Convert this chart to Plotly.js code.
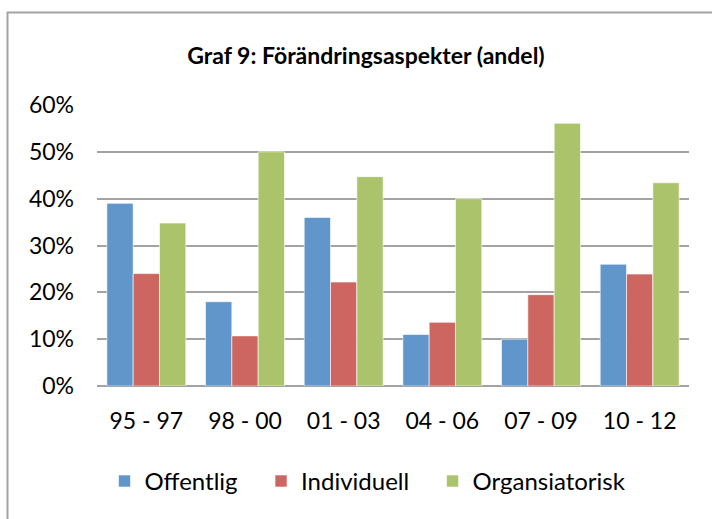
<!DOCTYPE html>
<html>
<head>
<meta charset="utf-8">
<script src="https://cdn.plot.ly/plotly-3.0.1.min.js"></script>
<style>
  html, body { margin: 0; padding: 0; background: #ffffff; }
  #chart { width: 712px; height: 519px; }
</style>
</head>
<body>
<div id="chart"></div>
<script>
const categories = ["95 - 97", "98 - 00", "01 - 03", "04 - 06", "07 - 09", "10 - 12"];
const offentlig = [0.39, 0.18, 0.36, 0.11, 0.10, 0.26];
const individuell = [0.24, 0.107, 0.222, 0.136, 0.195, 0.239];
const organsiatorisk = [0.348, 0.50, 0.447, 0.40, 0.561, 0.434];
const seriesNames = ["Offentlig", "Individuell", "Organsiatorisk"];
const seriesColors = ["#6096c9", "#cd6660", "#abc46c"];
const yTickVals = [0, 0.1, 0.2, 0.3, 0.4, 0.5, 0.6];
const yTickText = ["0%", "10%", "20%", "30%", "40%", "50%", "60%"];
const titleText = "Graf 9: Förändringsaspekter (andel)";

const PAD = "\u00a0\u00a0\u00a0";
const seriesValues = [offentlig, individuell, organsiatorisk];
const data = seriesValues.map((vals, i) => ({
  type: "bar",
  name: seriesNames[i] + PAD,
  x: categories,
  y: vals,
  marker: { color: seriesColors[i], line: { color: "rgba(255,255,255,0.6)", width: 1 } },
  hoverinfo: "skip"
}));

const FONT = "Lato, 'Open Sans', sans-serif";

const layout = {
  width: 712,
  height: 519,
  margin: { l: 97, r: 23, t: 105, b: 133, pad: 0 },
  paper_bgcolor: "#ffffff",
  plot_bgcolor: "#ffffff",
  font: { family: FONT, color: "#000000", size: 23 },
  title: {
    text: "<b>" + titleText + "</b>",
    font: { family: FONT, size: 23, color: "#000000" },
    x: 366 / 712,
    xanchor: "center",
    xref: "container",
    y: 1 - 56 / 519,
    yanchor: "middle",
    yref: "container"
  },
  barmode: "group",
  bargap: 0.2,
  bargroupgap: 0,
  showlegend: true,
  legend: {
    orientation: "h",
    x: (104.5 - 97) / 592,
    xanchor: "left",
    y: (385.7 - 481) / 280.7,
    yanchor: "middle",
    font: { family: FONT, size: 24, color: "#000000" },
    bgcolor: "rgba(0,0,0,0)",
    traceorder: "normal"
  },
  xaxis: {
    type: "category",
    showgrid: false,
    showline: false,
    zeroline: false,
    ticks: "",
    ticklabelstandoff: 19,
    tickfont: { family: FONT, size: 23, color: "#000000" },
    fixedrange: true
  },
  yaxis: {
    range: [0, 0.6],
    tickvals: yTickVals,
    ticktext: yTickText,
    showgrid: true,
    gridcolor: "#a3a3a3",
    gridwidth: 2,
    zeroline: true,
    zerolinecolor: "#a3a3a3",
    zerolinewidth: 2,
    showline: false,
    ticks: "",
    ticklabelstandoff: 22,
    tickfont: { family: FONT, size: 23, color: "#000000" },
    fixedrange: true
  },
  shapes: [{
    type: "rect",
    xref: "paper",
    yref: "paper",
    x0: (7.5 - 97) / 592,
    x1: (730 - 97) / 592,
    y0: (385.7 - 540) / 280.7,
    y1: 1 + (105 - 12.5) / 280.7,
    line: { color: "#a3a3a3", width: 2 },
    fillcolor: "rgba(0,0,0,0)",
    layer: "below"
  }]
};

Plotly.newPlot("chart", data, layout, { displayModeBar: false, staticPlot: true });
</script>
</body>
</html>
